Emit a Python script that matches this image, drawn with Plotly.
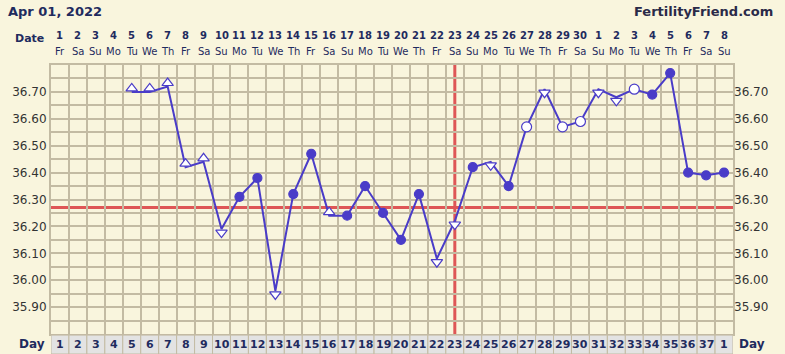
import plotly.graph_objects as go

# ---- data ----
date_nums = list(range(1, 31)) + list(range(1, 9))
weekdays = ["Fr", "Sa", "Su", "Mo", "Tu", "We", "Th"]
day_labels = [str(i) for i in range(1, 38)] + ["1"]
cycle_idx = list(range(1, 39))

temp_days = list(range(5, 39))
temps = [36.70, 36.70, 36.72, 36.42, 36.44, 36.19, 36.31, 36.38, 35.96, 36.32,
         36.47, 36.24, 36.24, 36.35, 36.25, 36.15, 36.32, 36.08, 36.22, 36.42,
         36.44, 36.35, 36.57, 36.71, 36.57, 36.59, 36.71, 36.68, 36.71, 36.69,
         36.77, 36.40, 36.39, 36.40]
# marker kind per point: 'up' open triangle, 'down' open triangle down, 'f' filled circle, 'o' open circle
kinds = ["up", "up", "up", "up", "up", "down", "f", "f", "down", "f",
         "f", "up", "f", "f", "f", "f", "f", "down", "down", "f",
         "down", "f", "o", "down", "o", "o", "down", "down", "o", "f",
         "f", "f", "f", "f"]
coverline = 36.27
ovulation_day = 23
y_ticks = [35.90, 36.00, 36.10, 36.20, 36.30, 36.40, 36.50, 36.60, 36.70]
y_range = [35.80, 36.80]

BG = "#F9F5DD"
GRID = "#C3BBA3"
LINE = "#4A3CC8"
NAVY = "#1F2B5E"
FONT = "DejaVu Sans"

fig = go.Figure()
fig.add_trace(go.Scatter(x=temp_days, y=temps, mode="lines",
                         line=dict(color=LINE, width=2), hoverinfo="skip"))

off = 0.013
def sub(kind):
    xs, ys = [], []
    for d, t, k in zip(temp_days, temps, kinds):
        if k == kind:
            xs.append(d)
            ys.append(t + (off if k == "up" else -off if k == "down" else 0))
    return xs, ys

for kind, sym, fill, size in [("up", "triangle-up", "white", 10),
                              ("down", "triangle-down", "white", 10),
                              ("o", "circle", "white", 10),
                              ("f", "circle", LINE, 9)]:
    xs, ys = sub(kind)
    fig.add_trace(go.Scatter(x=xs, y=ys, mode="markers",
                             marker=dict(symbol=sym, size=size, color=fill,
                                         line=dict(color=LINE, width=1.2))))

# invisible trace for right axis
fig.add_trace(go.Scatter(x=[cycle_idx[0]], y=[y_ticks[0]], yaxis="y2",
                         mode="markers", marker=dict(opacity=0), hoverinfo="skip"))

shapes = []
shapes.append(dict(type="line", xref="paper", x0=0, x1=1, yref="y",
                   y0=coverline, y1=coverline, line=dict(color="#DE5656", width=3),
                   layer="between"))
shapes.append(dict(type="line", xref="x", x0=ovulation_day, x1=ovulation_day,
                   yref="paper", y0=0, y1=1, line=dict(color="#DE5656", width=3),
                   layer="between"))
row_h = 20 / 269
for i in cycle_idx:
    shapes.append(dict(type="rect", xref="x", x0=i - 0.5, x1=i + 0.5, yref="paper",
                       y0=-row_h, y1=-0.004, fillcolor="#E3E3E3",
                       line=dict(color=GRID, width=1)))

ann = []
for i, (n, lab) in enumerate(zip(date_nums, day_labels)):
    x = cycle_idx[i]
    ann.append(dict(x=x, xref="x", y=1.11, yref="paper", text=f"<b>{n}</b>",
                    showarrow=False, font=dict(family=FONT, size=10, color=NAVY),
                    xanchor="center", yanchor="middle"))
    ann.append(dict(x=x, xref="x", y=1.05, yref="paper", text=weekdays[i % 7],
                    showarrow=False, font=dict(family=FONT, size=10, color=NAVY),
                    xanchor="center", yanchor="middle"))
    ann.append(dict(x=x, xref="x", y=-0.039, yref="paper", text=f"<b>{lab}</b>",
                    showarrow=False, font=dict(family=FONT, size=11, color=NAVY),
                    xanchor="center", yanchor="middle"))

ann += [
    dict(x=-0.066, xref="paper", y=1.2, yref="paper", text="<b>Apr 01, 2022</b>",
         showarrow=False, xanchor="left", yanchor="middle",
         font=dict(family=FONT, size=13, color=NAVY)),
    dict(x=1.0614, xref="paper", y=1.2, yref="paper", text="<b>FertilityFriend.com</b>",
         showarrow=False, xanchor="right", yanchor="middle",
         font=dict(family=FONT, size=13, color="#2A2A48")),
    dict(x=-0.008, xref="paper", y=1.1, yref="paper", text="<b>Date</b>",
         showarrow=False, xanchor="right", yanchor="middle",
         font=dict(family=FONT, size=11, color=NAVY)),
    dict(x=-0.006, xref="paper", y=-0.039, yref="paper", text="<b>Day</b>",
         showarrow=False, xanchor="right", yanchor="middle",
         font=dict(family=FONT, size=12, color=NAVY)),
    dict(x=1.0058, xref="paper", y=-0.039, yref="paper", text="<b>Day</b>",
         showarrow=False, xanchor="left", yanchor="middle",
         font=dict(family=FONT, size=12, color=NAVY)),
]

yaxis_common = dict(range=y_range, tickvals=y_ticks,
                    ticktext=[f"{v:.2f}" for v in y_ticks],
                    tickfont=dict(family=FONT, size=12, color="#333333"),
                    ticks="", zeroline=False, fixedrange=True)

fig.update_layout(
    width=785, height=354,
    margin=dict(l=49, r=52, t=65, b=20, pad=0),
    paper_bgcolor=BG, plot_bgcolor=BG,
    showlegend=False,
    xaxis=dict(range=[0.5, 38.5], tick0=0.5, dtick=1, showgrid=True,
               gridcolor=GRID, gridwidth=2, showticklabels=False, ticks="",
               zeroline=False, showline=True, mirror=True, linecolor=GRID,
               linewidth=2),
    yaxis=dict(**yaxis_common, showgrid=True, gridcolor=GRID, gridwidth=2,
               showline=True, mirror=True, linecolor=GRID, linewidth=2,
               minor=dict(tick0=35.85, dtick=0.1, showgrid=True,
                          gridcolor=GRID, gridwidth=2, ticks="")),
    yaxis2=dict(**yaxis_common, overlaying="y", side="right", showgrid=False,
                showline=False),
    shapes=shapes,
    annotations=ann,
)

fig.write_html("out.html")
